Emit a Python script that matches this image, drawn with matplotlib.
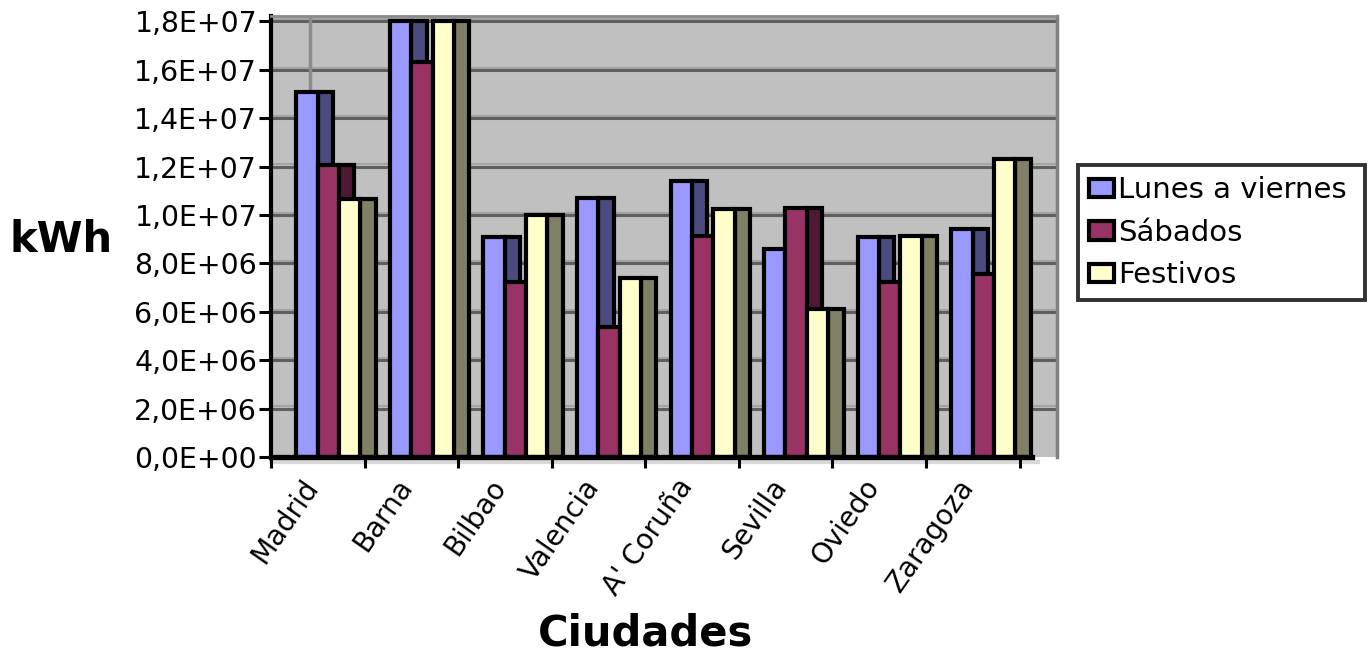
import numpy as np
import matplotlib
matplotlib.use("Agg")
import matplotlib.pyplot as plt
from matplotlib.ticker import FuncFormatter, FixedLocator

plt.rcParams['font.family'] = ['DejaVu Sans']

ciudades = ["Madrid", "Barna", "Bilbao", "Valencia", "A' Coruña", "Sevilla", "Oviedo", "Zaragoza"]
series_names = ["Lunes a viernes", "Sábados", "Festivos"]

lunes_viernes = [15.1e6, 18.0e6, 9.1e6, 10.7e6, 11.4e6, 8.6e6, 9.1e6, 9.4e6]
sabados = [12.05e6, 16.3e6, 7.25e6, 5.37e6, 9.13e6, 10.3e6, 7.25e6, 7.55e6]
festivos = [10.65e6, 18.0e6, 10.0e6, 7.4e6, 10.25e6, 6.1e6, 9.15e6, 12.3e6]

front_colors = ["#9999ff", "#993366", "#ffffcc"]
side_colors = ["#4b4b80", "#4d1a33", "#808066"]

fig = plt.figure(figsize=(13.68, 6.56), dpi=100)
W, H = 1368, 656
ax = fig.add_axes([271 / W, (H - 457) / H, (1057 - 271) / W, (457 - 16) / H])
ax.set_facecolor("#c0c0c0")

x = np.arange(len(ciudades))
offset = 0.27
fw = 0.228
sw = 0.165
edge = dict(edgecolor="black", linewidth=3)

for i, (vals, fc, sc, name) in enumerate(zip([lunes_viernes, sabados, festivos],
                                              front_colors, side_colors, series_names)):
    left = x + offset + i * fw
    ax.bar(left + fw, vals, width=sw, align="edge", color=sc, zorder=3 + i, **edge)
    ax.bar(left, vals, width=fw, align="edge", color=fc, zorder=3 + i, label=name, **edge)

# back wall grid lines with light shade above
yticks = np.arange(0, 1.81e7, 2e6)
for v in yticks[1:]:
    ax.axhline(v + 0.09e6, color="#a4a4a4", lw=1.5, zorder=1)
    ax.axhline(v, color="#5f5f5f", lw=2.2, zorder=1.2)
ax.axvline(0.417, color="#8c8c8c", lw=2.5, zorder=1.5)

ax.set_xlim(0, 8.4)
ax.set_ylim(0, 1.822e7)

ax.yaxis.set_major_locator(FixedLocator(yticks))
ax.yaxis.set_major_formatter(FuncFormatter(lambda v, p: f"{v:.1E}".replace(".", ",")))
ax.tick_params(axis="y", length=9, width=2.2, pad=1, labelsize=20.4, color="black")

ax.set_xticks(x + 0.57)
ax.set_xticklabels(ciudades, rotation=55, ha="right", fontsize=20)
ax.set_xticks(np.arange(0, 9), minor=True)
ax.tick_params(axis="x", which="major", length=0, pad=12)
ax.tick_params(axis="x", which="minor", length=8, width=2.2, color="black")

ax.spines["left"].set_linewidth(3)
ax.spines["left"].set_color("black")
ax.spines["bottom"].set_linewidth(3.8)
ax.spines["bottom"].set_color("black")
ax.spines["bottom"].set_bounds(0, 8.13)
ax.spines["bottom"].set_zorder(10)
ax.spines["top"].set_color("#8a8a8a")
ax.spines["top"].set_linewidth(2)
ax.spines["right"].set_color("#808080")
ax.spines["right"].set_linewidth(2.5)
ax.plot([0, 8.2], [-0.22e6, -0.22e6], color="#d9d9d9", lw=3, clip_on=False, zorder=0)

fig.text(61 / W, (H - 240) / H, "kWh", fontsize=30, fontweight="bold", ha="center", va="center")
fig.text(646 / W, (H - 646) / H, "Ciudades", fontsize=30, fontweight="bold", ha="center", va="baseline")

leg = fig.legend(loc="upper left", bbox_to_anchor=(1078 / W, (H - 298) / H, 287 / W, 133 / H),
                 bbox_transform=fig.transFigure, mode="expand", fontsize=21, frameon=True,
                 fancybox=False, handlelength=0.86, handleheight=0.6, handletextpad=0.12,
                 borderpad=0.38, labelspacing=0.5, borderaxespad=0)
leg.get_frame().set_edgecolor("black")
leg.get_frame().set_linewidth(2.8)

fig.savefig("out.png", dpi=100)
